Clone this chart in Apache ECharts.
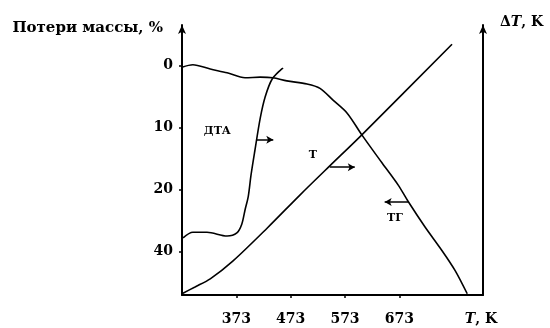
<!DOCTYPE html>
<html>
<head>
<meta charset="utf-8">
<script src="https://cdn.jsdelivr.net/npm/echarts@6/dist/echarts.min.js"></script>
<style>html,body{margin:0;padding:0;background:#fff;}#c{width:550px;height:328px;}</style>
</head>
<body>
<div id="c"></div>
<script>
// Temperature axis (K)
var xTicks = [373, 473, 573, 673];
// Left axis: tick positions (vertical divisions) and their printed labels
var yTickPos = [0, 10, 20, 30];
var yTickText = ['0', '10', '20', '40'];

// ТГ curve: temperature (K) and mass loss (axis units)
var tgT = [273, 293, 325, 356, 389, 417, 440, 466, 503, 527, 551, 577, 604, 641, 671, 689, 720, 752, 776, 798];
var tgV = [0.3, -0.1, 0.6, 1.2, 2.0, 1.9, 2.0, 2.5, 3.0, 3.7, 5.6, 7.7, 11.2, 15.7, 19.3, 21.9, 26.0, 29.9, 33.1, 36.8];

// ДТА curve
var dtaT = [275, 293, 319, 356, 374, 383, 389, 395, 400, 407, 417, 426, 439, 459];
var dtaV = [27.8, 26.9, 26.9, 27.5, 27.0, 25.6, 23.3, 21.1, 17.7, 13.8, 8.5, 5.1, 2.2, 0.4];

// T curve
var tT = [273, 297, 325, 367, 430, 490, 545, 604, 770];
var tV = [36.8, 35.7, 34.4, 31.5, 26.2, 20.9, 16.2, 11.2, -3.4];

// Curve labels and their pointer arrows (data coords)
var labelNames = ['ДТА', 'Т', 'ТГ'];
var labelX = [338, 514, 665];
var labelY = [10.6, 14.4, 24.6];
var arrowFromX = [411, 545, 689];
var arrowToX = [441, 591, 646];
var arrowY = [12.0, 16.4, 22.0];

function zip(a, b) { return a.map(function (v, i) { return [v, b[i]]; }); }

var serif = '"DejaVu Serif", "Liberation Serif", serif';
var lineStyle = { color: '#000', width: 1.6 };

var chart = echarts.init(document.getElementById('c'), null, { renderer: 'canvas' });
chart.setOption({
  animation: false,
  backgroundColor: '#fff',
  grid: { left: 182, right: 67, top: 25, bottom: 33 },
  xAxis: {
    type: 'value', min: 273, max: 827,
    name: '{i|T}{n|, K}',
    nameLocation: 'end', nameGap: -2,
    nameTextStyle: {
      align: 'center', verticalAlign: 'top', padding: [17, 0, 0, 0],
      rich: {
        i: { fontFamily: serif, fontStyle: 'italic', fontWeight: 'bold', fontSize: 14, color: '#000' },
        n: { fontFamily: serif, fontWeight: 'bold', fontSize: 14, color: '#000' }
      }
    },
    axisLine: { onZero: false, lineStyle: { color: '#000', width: 2 } },
    axisTick: { show: true, customValues: xTicks, length: 3, lineStyle: { color: '#000', width: 1.5 } },
    axisLabel: { customValues: xTicks, margin: 17, color: '#000', fontFamily: serif, fontWeight: 'bold', fontSize: 14 },
    splitLine: { show: false }
  },
  yAxis: [{
    type: 'value', min: -6.5, max: 37, inverse: true, position: 'left',
    name: 'Потери массы, %',
    nameLocation: 'start', nameGap: -3,
    nameTextStyle: { align: 'right', verticalAlign: 'middle', padding: [0, 19, 0, 0], color: '#000', fontFamily: serif, fontWeight: 'bold', fontSize: 15 },
    axisLine: { show: true, onZero: false, symbol: ['none', 'arrow'], symbolSize: [6, 9], lineStyle: { color: '#000', width: 2 } },
    axisTick: { show: true, customValues: yTickPos, length: 3, lineStyle: { color: '#000', width: 1.5 } },
    axisLabel: {
      customValues: yTickPos, margin: 9, color: '#000', fontFamily: serif, fontWeight: 'bold', fontSize: 14,
      formatter: function (v) { var i = yTickPos.indexOf(v); return i >= 0 ? yTickText[i] : ''; }
    },
    splitLine: { show: false }
  }, {
    type: 'value', min: -6.5, max: 37, inverse: true, position: 'right',
    name: '{n|Δ}{i|T}{n|, K}',
    nameLocation: 'start', nameGap: 3,
    nameTextStyle: {
      align: 'left', verticalAlign: 'middle', padding: [0, 0, 0, 17],
      rich: {
        i: { fontFamily: serif, fontStyle: 'italic', fontWeight: 'bold', fontSize: 14, color: '#000' },
        n: { fontFamily: serif, fontWeight: 'bold', fontSize: 14, color: '#000' }
      }
    },
    axisLine: { show: true, onZero: false, symbol: ['none', 'arrow'], symbolSize: [6, 9], lineStyle: { color: '#000', width: 2 } },
    axisTick: { show: false }, axisLabel: { show: false }, splitLine: { show: false }
  }],
  series: [{
    name: 'ТГ', type: 'line', yAxisIndex: 0, data: zip(tgT, tgV), smooth: 0.3, symbol: 'none', lineStyle: lineStyle
  }, {
    name: 'ДТА', type: 'line', yAxisIndex: 1, data: zip(dtaT, dtaV), smooth: 0.3, symbol: 'none', lineStyle: lineStyle
  }, {
    name: 'T', type: 'line', yAxisIndex: 1, data: zip(tT, tV), smooth: 0.3, symbol: 'none', lineStyle: lineStyle,
    markLine: {
      silent: true, symbol: ['none', 'arrow'], symbolSize: [6, 7],
      label: { show: false },
      lineStyle: { color: '#000', width: 1.5, type: 'solid' },
      data: arrowY.map(function (y, i) { return [{ coord: [arrowFromX[i], y] }, { coord: [arrowToX[i], y] }]; })
    },
    markPoint: {
      silent: true, symbol: 'circle', symbolSize: 1, itemStyle: { color: 'rgba(0,0,0,0)' },
      label: { show: true, position: 'inside', color: '#000', fontFamily: serif, fontWeight: 'bold', fontSize: 11,
        formatter: function (p) { return p.name; } },
      data: labelNames.map(function (n, i) { return { name: n, coord: [labelX[i], labelY[i]] }; })
    }
  }]
});
</script>
</body>
</html>
